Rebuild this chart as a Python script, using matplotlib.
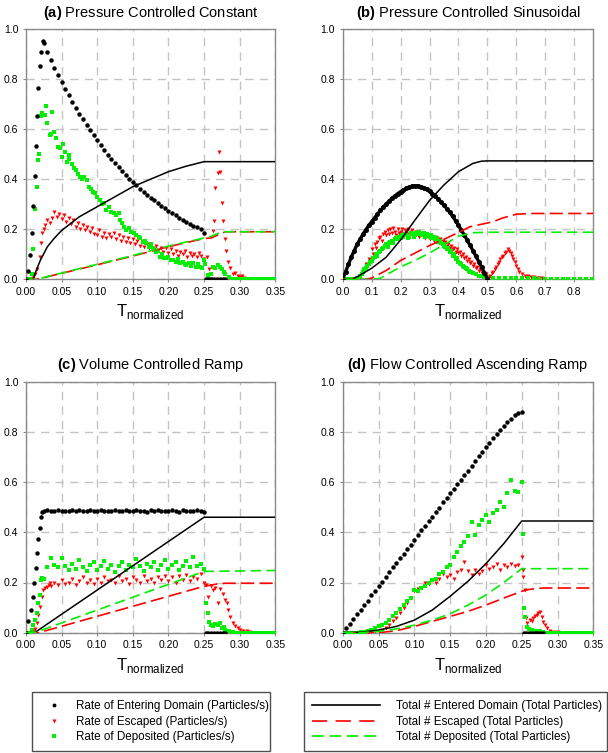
import matplotlib
matplotlib.use("Agg")
import matplotlib.pyplot as plt
from matplotlib.lines import Line2D

plt.rcParams['font.family'] = 'Liberation Sans'
plt.rcParams['mathtext.fontset'] = 'custom'
plt.rcParams['mathtext.rm'] = 'Liberation Sans'
plt.rcParams['mathtext.bf'] = 'Liberation Sans:bold'
plt.rcParams['lines.scale_dashes'] = False

# ---------------- (a) Pressure Controlled Constant ----------------
a_in_t = [0.0, 0.003, 0.0056, 0.008, 0.0103, 0.012, 0.0136, 0.016, 0.0173, 0.0196, 0.0215, 0.0234,
          0.025, 0.03, 0.035, 0.04, 0.045, 0.05, 0.055, 0.06, 0.065, 0.07, 0.075, 0.08, 0.085, 0.09, 0.095,
          0.10, 0.105, 0.11, 0.115, 0.12, 0.125, 0.13, 0.135, 0.14, 0.145, 0.15, 0.155, 0.16, 0.165, 0.17,
          0.175, 0.18, 0.185, 0.19, 0.195, 0.20, 0.205, 0.21, 0.215, 0.22, 0.225, 0.23, 0.235, 0.24, 0.245,
          0.25, 0.253, 0.256, 0.26, 0.264, 0.268, 0.272, 0.276, 0.28]
a_in_v = [0.0, 0.035, 0.097, 0.184, 0.294, 0.414, 0.534, 0.654, 0.766, 0.852, 0.909, 0.953,
          0.945, 0.91, 0.875, 0.845, 0.815, 0.79, 0.76, 0.735, 0.71, 0.685, 0.66, 0.64, 0.615, 0.595, 0.575,
          0.555, 0.535, 0.515, 0.497, 0.48, 0.463, 0.447, 0.432, 0.417, 0.402, 0.388, 0.375, 0.362, 0.35, 0.338,
          0.326, 0.315, 0.304, 0.293, 0.283, 0.273, 0.264, 0.255, 0.246, 0.238, 0.23, 0.222, 0.214, 0.207, 0.2,
          0.186, 0.0, 0.0, 0.0, 0.0, 0.0, 0.0, 0.0, 0.0]

a_esc_t = [0.0, 0.005, 0.01, 0.013, 0.016, 0.019, 0.021, 0.023, 0.025, 0.027, 0.03, 0.033, 0.036, 0.04,
           0.043, 0.046, 0.05, 0.053, 0.056, 0.06, 0.063, 0.066, 0.07, 0.073, 0.076, 0.08, 0.083, 0.086,
           0.09, 0.093, 0.096, 0.10, 0.103, 0.106, 0.11, 0.113, 0.116, 0.12, 0.123, 0.126, 0.13, 0.133,
           0.136, 0.14, 0.143, 0.146, 0.15, 0.153, 0.156, 0.16, 0.163, 0.166, 0.17, 0.173, 0.176, 0.18,
           0.183, 0.186, 0.19, 0.193, 0.196, 0.20, 0.203, 0.206, 0.21, 0.213, 0.216, 0.22, 0.223, 0.226,
           0.23, 0.233, 0.236, 0.24, 0.243, 0.246, 0.25, 0.254, 0.257, 0.26, 0.263, 0.264, 0.266, 0.269,
           0.271, 0.272, 0.275, 0.277, 0.279, 0.281, 0.283, 0.287, 0.291, 0.294, 0.297, 0.30, 0.303, 0.306,
           0.31, 0.32, 0.33, 0.34, 0.35]
a_esc_v = [0.0, 0.0, 0.005, 0.02, 0.04, 0.09, 0.146, 0.184, 0.2, 0.216, 0.235, 0.225, 0.245, 0.27,
           0.25, 0.262, 0.24, 0.255, 0.23, 0.245, 0.22, 0.235, 0.21, 0.225, 0.2, 0.215, 0.195, 0.21,
           0.19, 0.205, 0.18, 0.175, 0.195, 0.17, 0.185, 0.165, 0.18, 0.17, 0.185, 0.16, 0.175, 0.155,
           0.17, 0.15, 0.165, 0.145, 0.16, 0.14, 0.155, 0.135, 0.15, 0.13, 0.14, 0.125, 0.14, 0.12,
           0.135, 0.115, 0.125, 0.11, 0.125, 0.105, 0.12, 0.1, 0.115, 0.095, 0.11, 0.1, 0.112, 0.09,
           0.105, 0.095, 0.1, 0.09, 0.105, 0.095, 0.08, 0.088, 0.04, 0.0, 0.194, 0.234, 0.366, 0.426,
           0.509, 0.43, 0.306, 0.234, 0.16, 0.114, 0.07, 0.044, 0.021, 0.025, 0.013, 0.01, 0.015, 0.005,
           0.003, 0.0, 0.0, 0.0, 0.0]

a_dep_t = [0.0, 0.005, 0.008, 0.0105, 0.0126, 0.015, 0.017, 0.0185, 0.021, 0.023, 0.026, 0.028, 0.03,
           0.033, 0.035, 0.037, 0.039, 0.042, 0.045, 0.048, 0.05, 0.052, 0.055, 0.057, 0.06, 0.061, 0.064,
           0.067, 0.07, 0.073, 0.076, 0.079, 0.082, 0.085, 0.088, 0.091, 0.094, 0.097, 0.10, 0.104, 0.107,
           0.11, 0.113, 0.116, 0.12, 0.123, 0.126, 0.13, 0.132, 0.135, 0.138, 0.141, 0.145, 0.148, 0.151,
           0.155, 0.158, 0.16, 0.164, 0.167, 0.169, 0.172, 0.175, 0.179, 0.182, 0.185, 0.188, 0.191, 0.194,
           0.197, 0.20, 0.204, 0.207, 0.21, 0.213, 0.216, 0.22, 0.223, 0.225, 0.229, 0.232, 0.235, 0.238,
           0.241, 0.244, 0.247, 0.25, 0.252, 0.255, 0.257, 0.26, 0.263, 0.266, 0.27, 0.273, 0.275, 0.278,
           0.28, 0.285, 0.29, 0.295, 0.30, 0.305, 0.31, 0.315, 0.32, 0.325, 0.33, 0.335, 0.34, 0.345, 0.35]
a_dep_v = [0.0, 0.0, 0.02, 0.12, 0.28, 0.367, 0.477, 0.5, 0.652, 0.663, 0.655, 0.692, 0.623,
           0.577, 0.58, 0.67, 0.59, 0.563, 0.53, 0.525, 0.49, 0.54, 0.51, 0.467, 0.48, 0.497, 0.46,
           0.445, 0.437, 0.42, 0.41, 0.4, 0.41, 0.397, 0.37, 0.36, 0.35, 0.345, 0.33, 0.317, 0.3,
           0.305, 0.277, 0.29, 0.27, 0.264, 0.255, 0.265, 0.237, 0.225, 0.21, 0.197, 0.205, 0.19, 0.184,
           0.175, 0.17, 0.164, 0.15, 0.155, 0.144, 0.13, 0.14, 0.124, 0.11, 0.115, 0.09, 0.1, 0.085,
           0.084, 0.09, 0.078, 0.077, 0.07, 0.08, 0.064, 0.07, 0.06, 0.057, 0.066, 0.055, 0.064, 0.05,
           0.06, 0.05, 0.045, 0.076, 0.06, 0.017, 0.0, 0.02, 0.05, 0.045, 0.058, 0.05, 0.04, 0.03,
           0.02, 0.01, 0.003, 0.0, 0.0, 0.0, 0.0, 0.0, 0.0, 0.0, 0.0, 0.0, 0.0, 0.0, 0.0]

a_tot_t = [0.0, 0.01, 0.015, 0.02, 0.03, 0.04, 0.05, 0.075, 0.10, 0.125, 0.15, 0.175, 0.20, 0.225, 0.25, 0.35]
a_tot_in = [0.0, 0.0, 0.04, 0.075, 0.13, 0.165, 0.195, 0.25, 0.29, 0.33, 0.37, 0.40, 0.43, 0.452, 0.47, 0.47]
a_tot2_t = [0.0, 0.015, 0.05, 0.10, 0.15, 0.20, 0.25, 0.26, 0.27, 0.28, 0.35]
a_tot_esc = [0.0, 0.0, 0.024, 0.058, 0.093, 0.13, 0.163, 0.165, 0.178, 0.19, 0.19]
a_tot_dep = [0.0, 0.0, 0.025, 0.06, 0.095, 0.133, 0.165, 0.172, 0.184, 0.19, 0.19]

# ---------------- (b) Pressure Controlled Sinusoidal ----------------
b_in_t = [0.0, 0.01, 0.02, 0.03, 0.04, 0.05, 0.06, 0.07, 0.08, 0.09, 0.10, 0.11, 0.12, 0.13, 0.14,
          0.15, 0.16, 0.17, 0.18, 0.19, 0.20, 0.21, 0.22, 0.23, 0.24, 0.25, 0.26, 0.27, 0.28, 0.29,
          0.30, 0.31, 0.32, 0.33, 0.34, 0.35, 0.36, 0.37, 0.38, 0.39, 0.40, 0.41, 0.42, 0.43, 0.44,
          0.45, 0.46, 0.47, 0.48, 0.49, 0.50]
b_in_v = [0.0, 0.03, 0.06, 0.09, 0.115, 0.14, 0.16, 0.18, 0.198, 0.215, 0.23, 0.245, 0.26, 0.275, 0.288,
          0.30, 0.312, 0.323, 0.333, 0.342, 0.35, 0.357, 0.363, 0.368, 0.372, 0.374, 0.373, 0.37, 0.365, 0.359,
          0.351, 0.342, 0.332, 0.321, 0.309, 0.296, 0.282, 0.267, 0.251, 0.234, 0.216, 0.197, 0.177, 0.157, 0.136,
          0.115, 0.093, 0.071, 0.048, 0.025, 0.003]

b_esc_t = [0.05, 0.06, 0.07, 0.08, 0.09, 0.10, 0.105, 0.11, 0.115, 0.12, 0.125, 0.13, 0.135, 0.14, 0.145,
           0.15, 0.155, 0.16, 0.165, 0.17, 0.175, 0.18, 0.185, 0.19, 0.195, 0.20, 0.205, 0.21, 0.215, 0.22,
           0.225, 0.23, 0.235, 0.24, 0.245, 0.25, 0.255, 0.26, 0.265, 0.27, 0.275, 0.28, 0.285, 0.29, 0.295,
           0.30, 0.305, 0.31, 0.315, 0.32, 0.325, 0.33, 0.335, 0.34, 0.345, 0.35, 0.355, 0.36, 0.365, 0.37,
           0.375, 0.38, 0.385, 0.39, 0.395, 0.40, 0.405, 0.41, 0.415, 0.42, 0.425, 0.43, 0.435, 0.44, 0.445,
           0.45, 0.455, 0.46, 0.465, 0.47, 0.475, 0.48, 0.485, 0.49, 0.495, 0.50, 0.505, 0.51, 0.515, 0.52,
           0.525, 0.53, 0.535, 0.54, 0.545, 0.55, 0.555, 0.56, 0.565, 0.57, 0.575, 0.58, 0.585, 0.59, 0.595,
           0.60, 0.605, 0.61, 0.62, 0.63, 0.64, 0.65, 0.66, 0.67, 0.68, 0.69, 0.70, 0.72, 0.74, 0.76, 0.78,
           0.80, 0.82, 0.84, 0.86]
b_esc_v = [0.0, 0.01, 0.03, 0.06, 0.08, 0.12, 0.1, 0.14, 0.125, 0.15, 0.165, 0.17, 0.155, 0.18, 0.19,
           0.175, 0.195, 0.18, 0.2, 0.185, 0.205, 0.19, 0.175, 0.2, 0.185, 0.19, 0.2, 0.18, 0.195, 0.185,
           0.2, 0.18, 0.19, 0.195, 0.175, 0.185, 0.19, 0.18, 0.17, 0.185, 0.175, 0.18, 0.165, 0.175, 0.17,
           0.16, 0.175, 0.165, 0.155, 0.17, 0.16, 0.15, 0.16, 0.145, 0.155, 0.14, 0.15, 0.135, 0.14, 0.125,
           0.135, 0.12, 0.125, 0.11, 0.12, 0.105, 0.11, 0.095, 0.1, 0.085, 0.09, 0.075, 0.08, 0.065, 0.07,
           0.055, 0.06, 0.045, 0.05, 0.035, 0.04, 0.025, 0.03, 0.015, 0.02, 0.005, 0.01, 0.015, 0.025, 0.03,
           0.04, 0.05, 0.06, 0.07, 0.08, 0.09, 0.095, 0.105, 0.11, 0.123, 0.115, 0.105, 0.095, 0.08, 0.07,
           0.055, 0.04, 0.03, 0.02, 0.015, 0.012, 0.01, 0.008, 0.006, 0.005, 0.004, 0.003, 0.002, 0.001, 0.0, 0.0,
           0.0, 0.0, 0.0, 0.0]

b_dep_t = [0.0, 0.01, 0.02, 0.03, 0.04, 0.05, 0.06, 0.065, 0.07, 0.075, 0.08, 0.085, 0.09, 0.095, 0.10,
           0.105, 0.11, 0.115, 0.12, 0.125, 0.13, 0.135, 0.14, 0.145, 0.15, 0.155, 0.16, 0.165, 0.17, 0.175,
           0.18, 0.185, 0.19, 0.195, 0.20, 0.205, 0.21, 0.215, 0.22, 0.225, 0.23, 0.235, 0.24, 0.245, 0.25,
           0.255, 0.26, 0.265, 0.27, 0.275, 0.28, 0.285, 0.29, 0.295, 0.30, 0.305, 0.31, 0.315, 0.32, 0.325,
           0.33, 0.335, 0.34, 0.345, 0.35, 0.355, 0.36, 0.365, 0.37, 0.375, 0.38, 0.385, 0.39, 0.395, 0.40,
           0.405, 0.41, 0.415, 0.42, 0.425, 0.43, 0.435, 0.44, 0.445, 0.45, 0.46, 0.47, 0.48, 0.49, 0.50,
           0.52, 0.54, 0.56, 0.58, 0.60, 0.62, 0.64, 0.66, 0.68, 0.70, 0.72, 0.74, 0.76, 0.78, 0.80,
           0.82, 0.84, 0.86]
b_dep_v = [0.0, 0.0, 0.0, 0.0, 0.002, 0.005, 0.015, 0.02, 0.03, 0.04, 0.045, 0.055, 0.06, 0.07, 0.075,
           0.085, 0.09, 0.1, 0.095, 0.11, 0.115, 0.12, 0.125, 0.135, 0.14, 0.13, 0.145, 0.15, 0.155, 0.145,
           0.16, 0.165, 0.17, 0.16, 0.165, 0.175, 0.17, 0.18, 0.175, 0.165, 0.17, 0.185, 0.18, 0.17, 0.175,
           0.185, 0.18, 0.19, 0.18, 0.175, 0.185, 0.17, 0.18, 0.175, 0.17, 0.175, 0.165, 0.17, 0.16, 0.165,
           0.15, 0.155, 0.145, 0.14, 0.135, 0.13, 0.12, 0.125, 0.11, 0.115, 0.095, 0.1, 0.08, 0.085, 0.07,
           0.065, 0.06, 0.055, 0.05, 0.045, 0.04, 0.035, 0.03, 0.028, 0.025, 0.02, 0.015, 0.012, 0.01, 0.008,
           0.006, 0.007, 0.005, 0.006, 0.004, 0.005, 0.004, 0.004, 0.003, 0.003, 0.003, 0.002, 0.003, 0.002, 0.002,
           0.002, 0.002, 0.002]

b_tot_t = [0.0, 0.03, 0.05, 0.10, 0.15, 0.20, 0.25, 0.30, 0.35, 0.40, 0.45, 0.48, 0.50, 0.866]
b_tot_in = [0.0, 0.0, 0.01, 0.044, 0.088, 0.157, 0.237, 0.315, 0.377, 0.43, 0.463, 0.472, 0.473, 0.473]
b_esc_tot_t = [0.0, 0.08, 0.10, 0.15, 0.20, 0.25, 0.30, 0.36, 0.44, 0.52, 0.55, 0.60, 0.65, 0.866]
b_tot_esc = [0.0, 0.0, 0.005, 0.035, 0.075, 0.105, 0.135, 0.165, 0.21, 0.23, 0.244, 0.26, 0.263, 0.263]
b_dep_tot_t = [0.0, 0.10, 0.13, 0.20, 0.25, 0.30, 0.36, 0.40, 0.45, 0.50, 0.866]
b_tot_dep = [0.0, 0.0, 0.004, 0.05, 0.075, 0.105, 0.145, 0.172, 0.186, 0.188, 0.188]

# ---------------- (c) Volume Controlled Ramp ----------------
c_in_t = [0.0, 0.0033, 0.0065, 0.0103, 0.0117, 0.0136, 0.015, 0.0173, 0.0196, 0.021, 0.023,
          0.025, 0.03, 0.035, 0.04, 0.045, 0.05, 0.055, 0.06, 0.065, 0.07, 0.075, 0.08, 0.085, 0.09,
          0.095, 0.10, 0.105, 0.11, 0.115, 0.12, 0.125, 0.13, 0.135, 0.14, 0.145, 0.15, 0.155, 0.16,
          0.165, 0.17, 0.175, 0.18, 0.185, 0.19, 0.195, 0.20, 0.205, 0.21, 0.215, 0.22, 0.225, 0.23,
          0.235, 0.24, 0.245, 0.25, 0.253, 0.256, 0.26, 0.264, 0.268, 0.272, 0.276, 0.28]
c_in_v = [0.0, 0.046, 0.09, 0.143, 0.197, 0.259, 0.316, 0.372, 0.416, 0.46, 0.482,
          0.485, 0.487, 0.484, 0.486, 0.488, 0.483, 0.486, 0.485, 0.488, 0.484, 0.487, 0.485, 0.483, 0.487,
          0.486, 0.484, 0.488, 0.485, 0.483, 0.486, 0.487, 0.484, 0.486, 0.488, 0.483, 0.485, 0.487, 0.484,
          0.486, 0.482, 0.487, 0.485, 0.488, 0.484, 0.486, 0.483, 0.487, 0.485, 0.482, 0.488, 0.484, 0.486,
          0.483, 0.487, 0.484, 0.482, 0.0, 0.0, 0.0, 0.0, 0.0, 0.0, 0.0, 0.0]

c_esc_t = [0.0, 0.005, 0.01, 0.013, 0.015, 0.0175, 0.0196, 0.022, 0.024, 0.027, 0.029, 0.032, 0.034,
           0.035, 0.04, 0.045, 0.05, 0.055, 0.06, 0.065, 0.07, 0.075, 0.08, 0.085, 0.09, 0.095, 0.10,
           0.105, 0.11, 0.115, 0.12, 0.125, 0.13, 0.135, 0.14, 0.145, 0.15, 0.155, 0.16, 0.165, 0.17,
           0.175, 0.18, 0.185, 0.19, 0.195, 0.20, 0.205, 0.21, 0.215, 0.22, 0.225, 0.23, 0.235, 0.24,
           0.245, 0.25, 0.253, 0.256, 0.26, 0.263, 0.266, 0.27, 0.273, 0.276, 0.279, 0.282, 0.284, 0.286,
           0.29, 0.294, 0.297, 0.30, 0.305, 0.31, 0.315, 0.32, 0.33, 0.34, 0.35]
c_esc_v = [0.0, 0.0, 0.005, 0.015, 0.037, 0.07, 0.104, 0.143, 0.17, 0.18, 0.183, 0.19, 0.197,
           0.185, 0.2, 0.19, 0.21, 0.195, 0.2, 0.215, 0.19, 0.205, 0.22, 0.2, 0.21, 0.195, 0.215,
           0.2, 0.22, 0.205, 0.21, 0.2, 0.225, 0.205, 0.215, 0.195, 0.22, 0.21, 0.2, 0.225, 0.205,
           0.215, 0.2, 0.22, 0.21, 0.225, 0.205, 0.22, 0.2, 0.225, 0.21, 0.23, 0.205, 0.22, 0.215,
           0.235, 0.2, 0.19, 0.143, 0.185, 0.17, 0.18, 0.117, 0.175, 0.155, 0.13, 0.117, 0.09, 0.064,
           0.04, 0.025, 0.017, 0.01, 0.008, 0.005, 0.003, 0.0, 0.0, 0.0, 0.0]

c_dep_t = [0.0, 0.005, 0.008, 0.0105, 0.0126, 0.015, 0.017, 0.019, 0.021, 0.023,
           0.025, 0.03, 0.035, 0.04, 0.045, 0.05, 0.055, 0.06, 0.065, 0.07, 0.075, 0.08, 0.085, 0.09,
           0.095, 0.10, 0.105, 0.11, 0.115, 0.12, 0.125, 0.13, 0.135, 0.14, 0.145, 0.15, 0.155, 0.16,
           0.165, 0.17, 0.175, 0.18, 0.185, 0.19, 0.195, 0.20, 0.205, 0.21, 0.215, 0.22, 0.225, 0.23,
           0.235, 0.24, 0.245, 0.25, 0.2525, 0.255, 0.257, 0.26, 0.263, 0.266, 0.269, 0.272, 0.275, 0.278,
           0.28, 0.285, 0.29, 0.295, 0.30, 0.305, 0.31, 0.315, 0.32, 0.325, 0.33, 0.335, 0.34, 0.345, 0.35]
c_dep_v = [0.0, 0.0, 0.01, 0.03, 0.05, 0.077, 0.117, 0.15, 0.21, 0.216,
           0.215, 0.263, 0.296, 0.27, 0.26, 0.296, 0.265, 0.25, 0.275, 0.255, 0.29, 0.26, 0.245, 0.27,
           0.28, 0.25, 0.265, 0.285, 0.255, 0.27, 0.24, 0.265, 0.28, 0.25, 0.27, 0.26, 0.295, 0.265,
           0.245, 0.275, 0.26, 0.28, 0.25, 0.27, 0.29, 0.255, 0.27, 0.28, 0.25, 0.265, 0.285, 0.26,
           0.3, 0.265, 0.275, 0.255, 0.117, 0.077, 0.044, 0.03, 0.028, 0.035, 0.03, 0.037, 0.02, 0.024,
           0.01, 0.005, 0.002, 0.0, 0.0, 0.0, 0.0, 0.0, 0.0, 0.0, 0.0, 0.0, 0.0, 0.0, 0.0]

c_tot_t = [0.0, 0.012, 0.25, 0.35]
c_tot_in = [0.0, 0.0, 0.46, 0.46]
c_tot_dep = [0.0, 0.0, 0.244, 0.248]
c_esc_tot_t = [0.0, 0.018, 0.25, 0.26, 0.27, 0.28, 0.35]
c_tot_esc = [0.0, 0.0, 0.185, 0.19, 0.195, 0.197, 0.197]

# ---------------- (d) Flow Controlled Ascending Ramp ----------------
d_t = [0.0, 0.005, 0.01, 0.015, 0.02, 0.025, 0.03, 0.035, 0.04, 0.045, 0.05, 0.055, 0.06, 0.065,
       0.07, 0.075, 0.08, 0.085, 0.09, 0.095, 0.10, 0.105, 0.11, 0.115, 0.12, 0.125, 0.13, 0.135,
       0.14, 0.145, 0.15, 0.155, 0.16, 0.165, 0.17, 0.175, 0.18, 0.185, 0.19, 0.195, 0.20, 0.205,
       0.21, 0.215, 0.22, 0.225, 0.23, 0.235, 0.24, 0.245, 0.25]
d_in_v = [0.0, 0.017, 0.036, 0.056, 0.073, 0.092, 0.112, 0.128, 0.149, 0.166, 0.186, 0.203, 0.223, 0.24,
          0.26, 0.277, 0.297, 0.313, 0.334, 0.351, 0.371, 0.388, 0.408, 0.425, 0.445, 0.462, 0.482, 0.498,
          0.519, 0.536, 0.556, 0.572, 0.593, 0.61, 0.629, 0.646, 0.666, 0.683, 0.702, 0.72, 0.739, 0.756,
          0.774, 0.791, 0.808, 0.824, 0.84, 0.853, 0.866, 0.875, 0.88]
d_esc_v = [0.0, 0.0, 0.0, 0.0, 0.0, 0.0, 0.0, 0.0, 0.002, 0.005, 0.008, 0.012, 0.02, 0.03,
           0.045, 0.06, 0.08, 0.1, 0.12, 0.14, 0.165, 0.175, 0.18, 0.2, 0.195, 0.21, 0.2, 0.215,
           0.235, 0.22, 0.23, 0.215, 0.24, 0.25, 0.28, 0.245, 0.23, 0.25, 0.235, 0.245, 0.27, 0.255,
           0.26, 0.275, 0.25, 0.27, 0.26, 0.275, 0.265, 0.27, 0.3]
d_dep_v = [0.0, 0.0, 0.0, 0.0, 0.0, 0.002, 0.004, 0.007, 0.012, 0.018, 0.025, 0.03, 0.038, 0.05,
           0.065, 0.08, 0.095, 0.11, 0.125, 0.14, 0.17, 0.165, 0.18, 0.185, 0.2, 0.21, 0.215, 0.235,
           0.24, 0.26, 0.27, 0.3, 0.32, 0.345, 0.36, 0.385, 0.44, 0.39, 0.43, 0.45, 0.47, 0.44,
           0.475, 0.49, 0.52, 0.5, 0.555, 0.61, 0.565, 0.56, 0.6]
d_in_after_t = [0.253, 0.256, 0.26, 0.264, 0.268, 0.272, 0.276, 0.28]
d_in_after_v = [0.0, 0.0, 0.0, 0.0, 0.0, 0.0, 0.0, 0.0]
d_esc_after_t = [0.2515, 0.2525, 0.254, 0.256, 0.258, 0.261, 0.264, 0.266, 0.269, 0.271, 0.273, 0.275,
                 0.278, 0.28, 0.283, 0.285, 0.29, 0.295, 0.30, 0.305, 0.31, 0.315, 0.32, 0.325, 0.33,
                 0.335, 0.34, 0.345, 0.35]
d_esc_after_v = [0.25, 0.223, 0.17, 0.06, 0.037, 0.05, 0.045, 0.057, 0.065, 0.07, 0.08, 0.084,
                 0.064, 0.044, 0.03, 0.017, 0.008, 0.004, 0.002, 0.0, 0.0, 0.0, 0.0, 0.0, 0.0,
                 0.0, 0.0, 0.0, 0.0]
d_dep_after_t = [0.2515, 0.253, 0.2545, 0.257, 0.26, 0.265, 0.27, 0.275, 0.28, 0.285, 0.29, 0.295,
                 0.30, 0.305, 0.31, 0.315, 0.32, 0.325, 0.33, 0.335, 0.34, 0.345, 0.35]
d_dep_after_v = [0.395, 0.097, 0.064, 0.024, 0.015, 0.01, 0.008, 0.005, 0.003, 0.0, 0.0, 0.0,
                 0.0, 0.0, 0.0, 0.0, 0.0, 0.0, 0.0, 0.0, 0.0, 0.0, 0.0]

d_tot_t = [0.0, 0.025, 0.05, 0.075, 0.10, 0.125, 0.15, 0.175, 0.20, 0.225, 0.25, 0.35]
d_tot_in = [0.0, 0.002, 0.01, 0.025, 0.05, 0.09, 0.145, 0.205, 0.275, 0.355, 0.445, 0.445]
d_tot_dep = [0.0, 0.0, 0.005, 0.015, 0.03, 0.05, 0.075, 0.11, 0.15, 0.2, 0.255, 0.255]
d_esc_tot_t = [0.0, 0.05, 0.075, 0.10, 0.125, 0.15, 0.175, 0.20, 0.225, 0.25, 0.26, 0.27, 0.28, 0.35]
d_tot_esc = [0.0, 0.0, 0.008, 0.025, 0.045, 0.065, 0.085, 0.11, 0.138, 0.165, 0.172, 0.176, 0.178, 0.178]

titles = ['(a)', '(b)', '(c)', '(d)']
names = ['Pressure Controlled Constant', 'Pressure Controlled Sinusoidal',
         'Volume Controlled Ramp', 'Flow Controlled Ascending Ramp']
rate_labels = ['Rate of Entering Domain (Particles/s)', 'Rate of Escaped (Particles/s)',
               'Rate of Deposited (Particles/s)']
total_labels = ['Total # Entered Domain (Total Particles)', 'Total # Escaped (Total Particles)',
                'Total # Deposited (Total Particles)']

RED = '#ff0000'
GREEN = '#00ee00'
RED_DASH = (0, (9.5, 3.8))
GREEN_DASH = (0, (7.5, 3.8))

W, H = 608.0, 753.0
boxes = [(26, 29, 275.3, 279.3), (342.7, 29, 593.3, 279.3),
         (26, 381.7, 275.3, 632.7), (342.7, 381.7, 593.3, 632.7)]

fig = plt.figure(figsize=(6.08, 7.53), dpi=100)
axes = []
for (x0, y0, x1, y1) in boxes:
    axes.append(fig.add_axes([x0 / W, 1 - y1 / H, (x1 - x0) / W, (y1 - y0) / H]))


def rates(ax, tin, vin, tesc, vesc, tdep, vdep, ms_in=3.2):
    ax.plot(tesc, vesc, 'v', color=RED, ms=2.9, mew=0, zorder=3)
    ax.plot(tdep, vdep, 's', color=GREEN, ms=2.7, mew=0, zorder=3)
    ax.plot(tin, vin, 'o', color='black', ms=ms_in, mew=0, zorder=4)


def totals(ax, t1, v1, t2, v2, t3, v3):
    ax.plot(t1, v1, '-', color='black', lw=1.1, zorder=5)
    ax.plot(t2, v2, color=RED, lw=1.2, linestyle=RED_DASH, zorder=5)
    ax.plot(t3, v3, color=GREEN, lw=1.2, linestyle=GREEN_DASH, zorder=5)


ax = axes[0]
rates(ax, a_in_t, a_in_v, a_esc_t, a_esc_v, a_dep_t, a_dep_v)
totals(ax, a_tot_t, a_tot_in, a_tot2_t, a_tot_esc, a_tot2_t, a_tot_dep)

ax = axes[1]
ax.plot(b_esc_t, b_esc_v, 'v', color=RED, ms=2.9, mew=0, zorder=3)
ax.plot(b_dep_t, b_dep_v, 's', color=GREEN, ms=2.8, mew=0, zorder=3)
ax.plot(b_in_t, b_in_v, 'o', color='black', ms=3.6, mew=0, zorder=4)
ax.plot(b_in_t, b_in_v, '-', color='black', lw=2.4, zorder=4)
totals(ax, b_tot_t, b_tot_in, b_esc_tot_t, b_tot_esc, b_dep_tot_t, b_tot_dep)

ax = axes[2]
rates(ax, c_in_t, c_in_v, c_esc_t, c_esc_v, c_dep_t, c_dep_v)
totals(ax, c_tot_t, c_tot_in, c_esc_tot_t, c_tot_esc, c_tot_t, c_tot_dep)

ax = axes[3]
rates(ax, d_t + d_in_after_t, d_in_v + d_in_after_v, d_t + d_esc_after_t, d_esc_v + d_esc_after_v,
      d_t + d_dep_after_t, d_dep_v + d_dep_after_v)
totals(ax, d_tot_t, d_tot_in, d_esc_tot_t, d_tot_esc, d_tot_t, d_tot_dep)

for i, ax in enumerate(axes):
    if i == 1:
        ax.set_xlim(0, 0.866)
        xt = [0.0, 0.1, 0.2, 0.3, 0.4, 0.5, 0.6, 0.7, 0.8]
        ax.set_xticks(xt)
        ax.set_xticklabels(['%.1f' % v for v in xt])
    else:
        ax.set_xlim(0, 0.35)
        xt = [0.0, 0.05, 0.10, 0.15, 0.20, 0.25, 0.30, 0.35]
        ax.set_xticks(xt)
        ax.set_xticklabels(['%.2f' % v for v in xt])
    ax.set_ylim(0, 1.0)
    yt = [0.0, 0.2, 0.4, 0.6, 0.8, 1.0]
    ax.set_yticks(yt)
    ax.set_yticklabels(['%.1f' % v for v in yt])
    ax.grid(True, color='#c4c4c4', linestyle=(0, (6, 4.5)), linewidth=1.0)
    ax.set_axisbelow(True)
    for s in ax.spines.values():
        s.set_color('#8a8a8a')
        s.set_linewidth(1.0)
    ax.tick_params(labelsize=7.5, length=2.5, width=0.8, color='#8a8a8a', pad=3)
    ax.set_xlabel(r'T$_{\mathrm{normalized}}$', fontsize=12, labelpad=4)
    ax.set_title(r'$\mathbf{' + titles[i] + '}$ ' + names[i], fontsize=10.5, pad=9)

rate_handles = [Line2D([], [], marker='o', color='black', ms=2.8, mew=0, ls='none'),
                Line2D([], [], marker='v', color=RED, ms=2.9, mew=0, ls='none'),
                Line2D([], [], marker='s', color=GREEN, ms=2.6, mew=0, ls='none')]
total_handles = [Line2D([], [], color='black', lw=1.2),
                 Line2D([], [], color=RED, lw=1.2, ls=(0, (11, 6))),
                 Line2D([], [], color=GREEN, lw=1.2, ls=(0, (8.5, 4)))]

leg1 = fig.legend(rate_handles, rate_labels, loc='upper left',
                  bbox_to_anchor=(32 / W, 1 - 692 / H, 238 / W, 0.0), mode='expand',
                  borderaxespad=0.0, fancybox=False, framealpha=1, edgecolor='#505050',
                  fontsize=8.4, handlelength=2.4, handletextpad=0.7, borderpad=0.7,
                  labelspacing=0.3, numpoints=1)
leg1.get_frame().set_linewidth(1.0)
leg2 = fig.legend(total_handles, total_labels, loc='upper left',
                  bbox_to_anchor=(304 / W, 1 - 692 / H, 303 / W, 0.0), mode='expand',
                  borderaxespad=0.0, fancybox=False, framealpha=1, edgecolor='#505050',
                  fontsize=8.4, handlelength=5.8, handletextpad=1.4, borderpad=0.7,
                  labelspacing=0.3)
leg2.get_frame().set_linewidth(1.0)

fig.savefig('out.png', dpi=100)
